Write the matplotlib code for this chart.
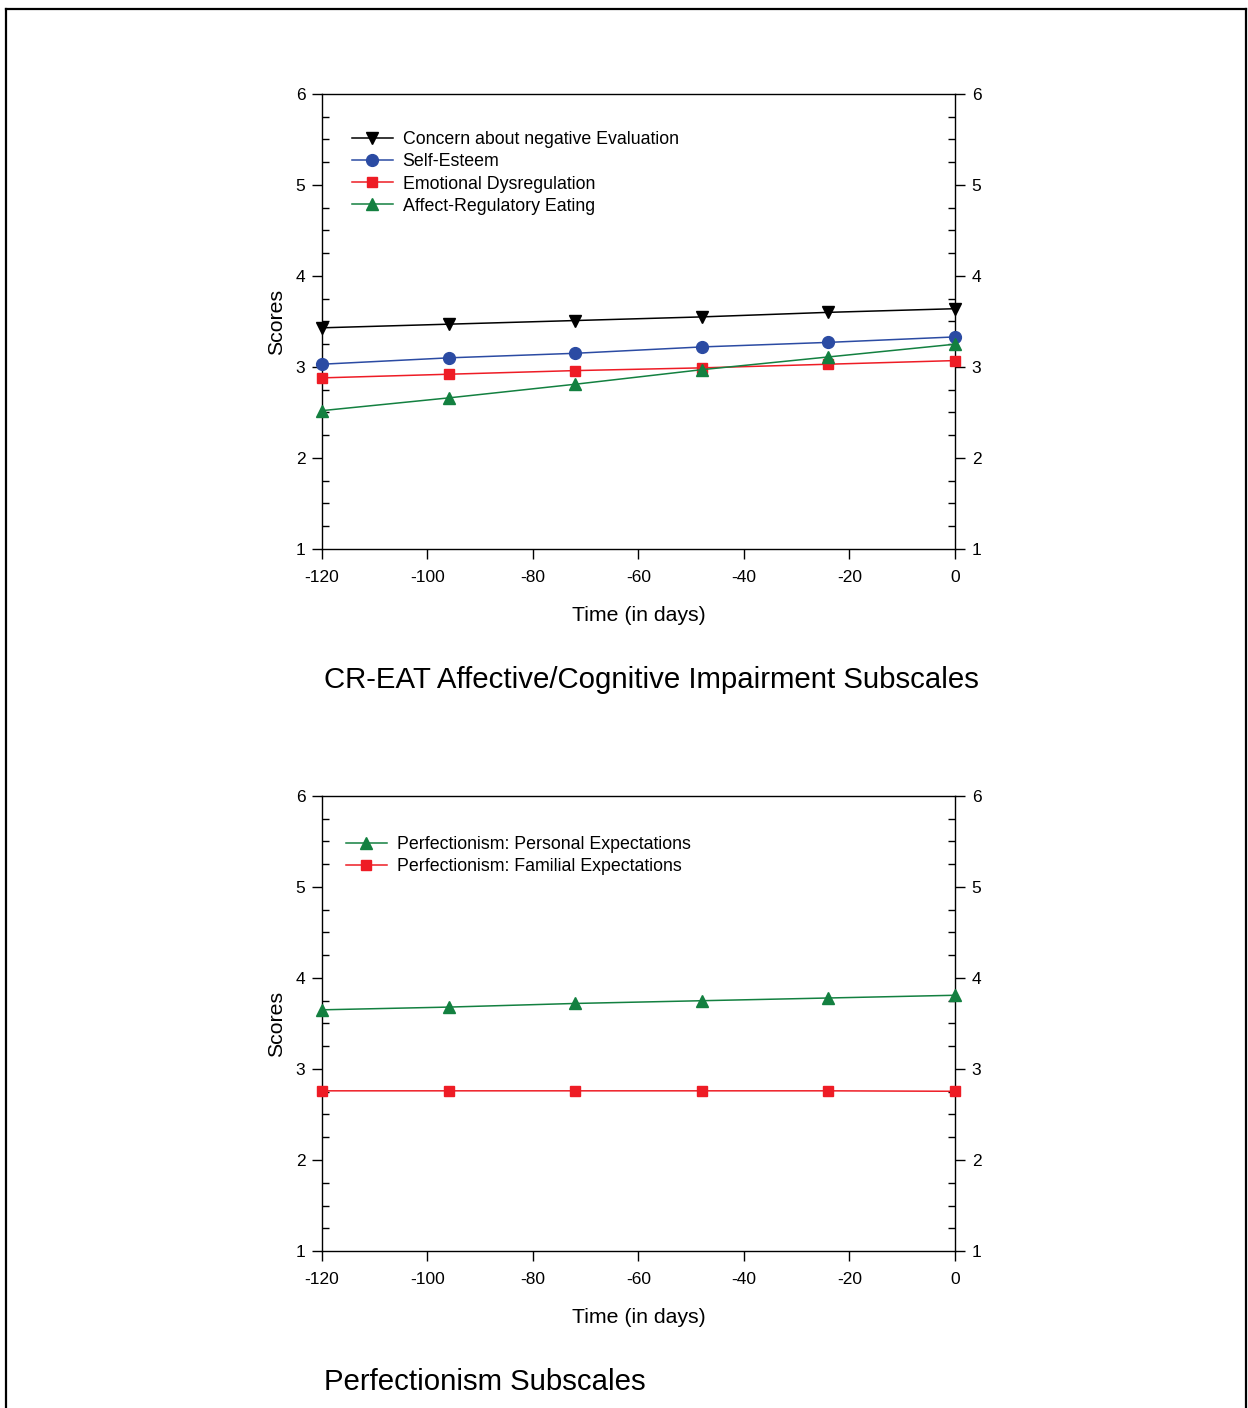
import matplotlib
matplotlib.use("Agg")
import matplotlib.pyplot as plt
from matplotlib.ticker import MultipleLocator
from matplotlib.lines import Line2D

plt.rcParams['font.family'] = ['Liberation Sans', 'DejaVu Sans']
plt.rcParams['axes.unicode_minus'] = False

days = [-120, -96, -72, -48, -24, 0]

concern = [3.43, 3.47, 3.51, 3.55, 3.60, 3.64]
self_esteem = [3.03, 3.10, 3.15, 3.22, 3.27, 3.33]
emotional = [2.88, 2.92, 2.96, 2.99, 3.03, 3.07]
affect_eating = [2.52, 2.66, 2.81, 2.97, 3.11, 3.25]

personal = [3.65, 3.68, 3.72, 3.75, 3.78, 3.81]
familial = [2.76, 2.76, 2.76, 2.76, 2.76, 2.755]

title_top = "CR-EAT Affective/Cognitive Impairment Subscales"
title_bottom = "Perfectionism Subscales"

BLACK = "#000000"
BLUE = "#2B4BA3"
RED = "#EE1C25"
GREEN = "#138040"

fig = plt.figure(figsize=(12.48, 14.08), dpi=100)

# frame around figure (left, top, right)
fig.add_artist(Line2D([0.0052, 0.0052], [0.0, 0.9936], transform=fig.transFigure, color='k', lw=1.6))
fig.add_artist(Line2D([0.0052, 0.9984], [0.9936, 0.9936], transform=fig.transFigure, color='k', lw=1.6))
fig.add_artist(Line2D([0.9984, 0.9984], [0.0, 0.9936], transform=fig.transFigure, color='k', lw=1.6))


def style_axes(ax):
    ax.set_xlim(-120, 0)
    ax.set_ylim(1, 6)
    ax.set_xticks([-120, -100, -80, -60, -40, -20, 0])
    ax.set_yticks([1, 2, 3, 4, 5, 6])
    ax.yaxis.set_minor_locator(MultipleLocator(0.25))
    ax.tick_params(axis='y', which='major', direction='out', left=True, right=True,
                   labelleft=True, labelright=True, length=7, width=1, labelsize=12.5, pad=5)
    ax.tick_params(axis='y', which='minor', direction='in', left=True, right=True, length=5, width=1)
    ax.tick_params(axis='x', which='major', direction='out', bottom=True, top=False,
                   length=7, width=1, labelsize=12.5, pad=8)
    for s in ax.spines.values():
        s.set_linewidth(1.0)
    ax.set_xlabel("Time (in days)", fontsize=15.3, labelpad=15)
    ax.set_ylabel("Scores", fontsize=15.3, labelpad=7)


ms = 8.5
lw = 1.1
leg_kw = dict(loc='upper left', frameon=False, fontsize=12.8, handlelength=2.3,
              handletextpad=0.55, labelspacing=0.29, borderpad=0, borderaxespad=0)

ax1 = fig.add_axes([0.2580, 0.6101, 0.5072, 0.3232])
ax1.plot(days, concern, color=BLACK, marker='v', ms=ms, lw=lw, label="Concern about negative Evaluation", clip_on=False, zorder=5)
ax1.plot(days, self_esteem, color=BLUE, marker='o', ms=ms, lw=lw, label="Self-Esteem", clip_on=False, zorder=4)
ax1.plot(days, emotional, color=RED, marker='s', ms=ms - 0.8, lw=lw, label="Emotional Dysregulation", clip_on=False, zorder=3)
ax1.plot(days, affect_eating, color=GREEN, marker='^', ms=ms, lw=lw, label="Affect-Regulatory Eating", clip_on=False, zorder=6)
style_axes(ax1)
ax1.legend(bbox_to_anchor=(0.0474, 0.918), **leg_kw)
fig.text(0.2596, 1 - 680 / 1408, title_top, fontsize=21.2, ha='left', va='center')

ax2 = fig.add_axes([0.2580, 0.1115, 0.5072, 0.3232])
ax2.plot(days, personal, color=GREEN, marker='^', ms=ms, lw=lw, label="Perfectionism: Personal Expectations", clip_on=False, zorder=5)
ax2.plot(days, familial, color=RED, marker='s', ms=ms - 0.8, lw=lw, label="Perfectionism: Familial Expectations", clip_on=False, zorder=4)
style_axes(ax2)
ax2.legend(bbox_to_anchor=(0.038, 0.912), **leg_kw)
fig.text(0.2596, 1 - 1382 / 1408, title_bottom, fontsize=21.2, ha='left', va='center')

fig.savefig("out.png", dpi=100)
